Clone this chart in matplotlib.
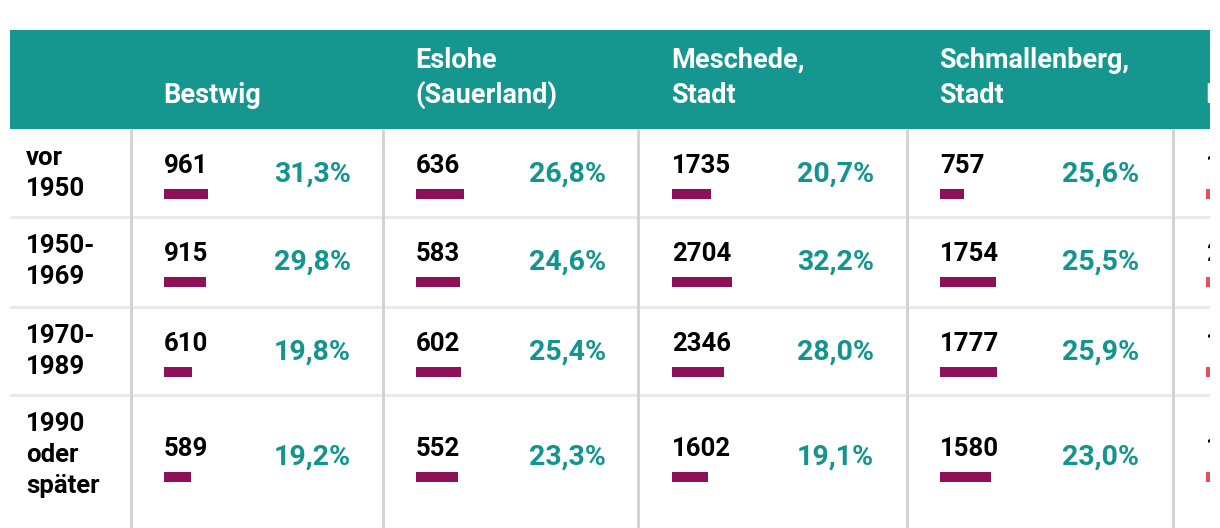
import matplotlib
matplotlib.use("Agg")
import matplotlib.pyplot as plt
from matplotlib.patches import Rectangle

plt.rcParams['font.family'] = ['Roboto', 'DejaVu Sans']

# data
gemeinden = ["Bestwig", "Eslohe\n(Sauerland)", "Meschede,\nStadt", "Schmallenberg,\nStadt", "Hochsauerlandkreis"]
baujahre = ["vor\n1950", "1950-\n1969", "1970-\n1989", "1990\noder\nspäter"]
bestwig = [961, 915, 610, 589]
eslohe = [636, 583, 602, 552]
meschede = [1735, 2704, 2346, 1602]
schmallenberg = [757, 1754, 1777, 1580]
hsk = [18000, 26000, 19000, 15000]  # column cut off in the picture, only first digit visible
bestwig_pct = [31.3, 29.8, 19.8, 19.2]
eslohe_pct = [26.8, 24.6, 25.4, 23.3]
meschede_pct = [20.7, 32.2, 28.0, 19.1]
schmallenberg_pct = [25.6, 25.5, 25.9, 23.0]
hsk_pct = [23.0, 33.0, 24.0, 19.0]

werte = [bestwig, eslohe, meschede, schmallenberg, hsk]
prozente = [bestwig_pct, eslohe_pct, meschede_pct, schmallenberg_pct, hsk_pct]

# layout (pixels)
teal = "#14948e"
purple = "#8c1158"
red = "#e8505b"
col_x = [164, 416, 672, 940, 1206]
pct_right = [351, 606, 874, 1139, 1400]
px_per_unit = [0.0458, 0.0755, 0.0222, 0.0321, 0.0022]
row_top = [129, 217, 307, 395]
vlines = [131, 383, 638, 907, 1173]

fig = plt.figure(figsize=(12.2, 5.28), dpi=100)
ax = fig.add_axes([10 / 1220, 0, 1200 / 1220, 1])
ax.set_xlim(10, 1210)
ax.set_ylim(528, 0)
ax.axis('off')

# header band
ax.add_patch(Rectangle((10, 30), 1200, 99, color="#15968f", lw=0))
for i, g in enumerate(gemeinden):
    lines = g.split("\n")
    for j, line in enumerate(reversed(lines)):
        ax.text(col_x[i] - 1, 103 - 35 * j, line, color="white", fontsize=19.5,
                fontweight="bold", va="baseline", ha="left", clip_on=True)

# grid lines
for y in row_top[1:]:
    ax.plot([10, 1210], [y, y], color="#e8e8e8", lw=2, solid_capstyle="butt")
for x in vlines:
    ax.plot([x, x], [129, 528], color="#d0d0d0", lw=2, solid_capstyle="butt")

# row labels
for r, lab in enumerate(baujahre):
    for j, line in enumerate(lab.split("\n")):
        ax.text(26, row_top[r] + 36 + 31 * j, line, color="black", fontsize=18.5,
                fontweight="bold", va="baseline", ha="left")

# cells
for c in range(len(werte)):
    for r in range(len(baujahre)):
        base = row_top[r] + 44
        if r == 3:
            base = row_top[r] + 61
        ax.text(col_x[c], base, str(werte[c][r]), color="black", fontsize=18.5,
                fontweight="bold", va="baseline", ha="left", clip_on=True)
        ax.add_patch(Rectangle((col_x[c], base + 16), werte[c][r] * px_per_unit[c], 10,
                               color=red if c == 4 else purple, lw=0, clip_on=True))
        ax.text(pct_right[c], base + 9, f"{prozente[c][r]:.1f}%".replace(".", ","),
                color=teal, fontsize=20.5, fontweight="bold", va="baseline", ha="right",
                clip_on=True)

fig.savefig("out.png", dpi=100, facecolor="white")
